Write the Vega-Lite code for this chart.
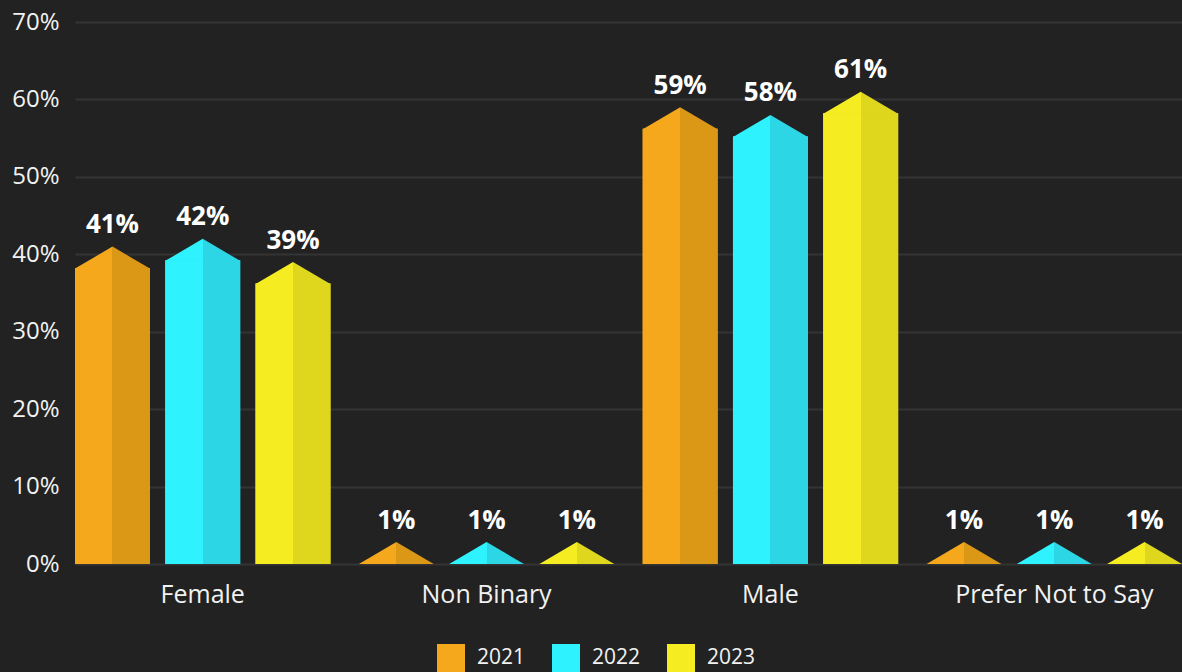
{
  "$schema": "https://vega.github.io/schema/vega-lite/v6.json",
  "width": 1107,
  "height": 542,
  "autosize": "none",
  "padding": {"left": 75, "top": 22, "right": 0, "bottom": 108},
  "background": "#222222",
  "config": {"view": {"stroke": null}, "font": "Open Sans"},
  "data": {
    "values": [
      {"gender": "Female", "year": "2021", "value": 0.41},
      {"gender": "Female", "year": "2022", "value": 0.42},
      {"gender": "Female", "year": "2023", "value": 0.39},
      {"gender": "Non Binary", "year": "2021", "value": 0.01},
      {"gender": "Non Binary", "year": "2022", "value": 0.01},
      {"gender": "Non Binary", "year": "2023", "value": 0.01},
      {"gender": "Male", "year": "2021", "value": 0.59},
      {"gender": "Male", "year": "2022", "value": 0.58},
      {"gender": "Male", "year": "2023", "value": 0.61},
      {"gender": "Prefer Not to Say", "year": "2021", "value": 0.01},
      {"gender": "Prefer Not to Say", "year": "2022", "value": 0.01},
      {"gender": "Prefer Not to Say", "year": "2023", "value": 0.01}
    ]
  },
  "encoding": {
    "x": {
      "field": "gender",
      "type": "nominal",
      "sort": ["Female", "Non Binary", "Male", "Prefer Not to Say"],
      "scale": {"paddingInner": 0.1, "paddingOuter": 0},
      "axis": {"title": null, "labelAngle": 0, "domain": false, "ticks": false, "labelPadding": 18, "labelFontSize": 25, "labelLimit": 0, "labelColor": "#f2f2f2", "grid": false}
    },
    "xOffset": {
      "field": "year",
      "type": "nominal",
      "scale": {"paddingInner": 0.17, "paddingOuter": 0}
    },
    "y": {
      "field": "value",
      "type": "quantitative",
      "scale": {"domain": [0, 0.7]},
      "axis": {"title": null, "format": ".0%", "values": [0, 0.1, 0.2, 0.3, 0.4, 0.5, 0.6, 0.7], "grid": true, "gridColor": "#343434", "gridWidth": 2, "domain": false, "ticks": false, "labelPadding": 16, "labelFontSize": 24, "labelColor": "#f2f2f2"}
    }
  },
  "layer": [
    {
      "mark": {"type": "bar", "yOffset": 21.5, "clip": true},
      "encoding": {
        "fill": {
          "field": "year",
          "type": "nominal",
          "scale": {"domain": ["2021", "2022", "2023"], "range": ["#F5A81C", "#2EF2FE", "#F5ED22"]},
          "legend": {"title": null, "orient": "none", "legendX": 362, "legendY": 622, "direction": "horizontal", "symbolType": "square", "symbolSize": 784, "symbolStrokeWidth": 0, "labelFontSize": 21, "labelColor": "#f2f2f2", "labelOffset": 12, "columnPadding": 26}
        }
      }
    },
    {
      "mark": {"type": "bar", "yOffset": 21.5, "clip": true},
      "encoding": {
        "fill": {
          "condition": [
            {"test": "datum.year === '2021'", "value": {"gradient": "linear", "x1": 0, "y1": 0, "x2": 1, "y2": 0, "stops": [{"offset": 0, "color": "#F5A81C"}, {"offset": 0.5, "color": "#F5A81C"}, {"offset": 0.5, "color": "#DB9817"}, {"offset": 1, "color": "#DB9817"}]}},
            {"test": "datum.year === '2022'", "value": {"gradient": "linear", "x1": 0, "y1": 0, "x2": 1, "y2": 0, "stops": [{"offset": 0, "color": "#2EF2FE"}, {"offset": 0.5, "color": "#2EF2FE"}, {"offset": 0.5, "color": "#2CD6E4"}, {"offset": 1, "color": "#2CD6E4"}]}}
          ],
          "value": {"gradient": "linear", "x1": 0, "y1": 0, "x2": 1, "y2": 0, "stops": [{"offset": 0, "color": "#F5ED22"}, {"offset": 0.5, "color": "#F5ED22"}, {"offset": 0.5, "color": "#DED71E"}, {"offset": 1, "color": "#DED71E"}]}
        }
      }
    },
    {
      "mark": {"type": "point", "shape": "M-1,0.59L0,0L1,0.59Z", "size": 5595, "filled": true, "opacity": 1, "strokeWidth": 0, "yOffset": {"expr": "min(0, scale('y', 0) - scale('y', datum.value) - 22)"}},
      "encoding": {
        "fill": {
          "condition": [
            {"test": "datum.year === '2021'", "value": {"gradient": "linear", "x1": 0, "y1": 0, "x2": 1, "y2": 0, "stops": [{"offset": 0, "color": "#F5A81C"}, {"offset": 0.5, "color": "#F5A81C"}, {"offset": 0.5, "color": "#DB9817"}, {"offset": 1, "color": "#DB9817"}]}},
            {"test": "datum.year === '2022'", "value": {"gradient": "linear", "x1": 0, "y1": 0, "x2": 1, "y2": 0, "stops": [{"offset": 0, "color": "#2EF2FE"}, {"offset": 0.5, "color": "#2EF2FE"}, {"offset": 0.5, "color": "#2CD6E4"}, {"offset": 1, "color": "#2CD6E4"}]}}
          ],
          "value": {"gradient": "linear", "x1": 0, "y1": 0, "x2": 1, "y2": 0, "stops": [{"offset": 0, "color": "#F5ED22"}, {"offset": 0.5, "color": "#F5ED22"}, {"offset": 0.5, "color": "#DED71E"}, {"offset": 1, "color": "#DED71E"}]}
        }
      }
    },
    {
      "mark": {"type": "text", "fontSize": 26, "fontWeight": "bold", "color": "#ffffff", "baseline": "alphabetic", "dy": -13.5, "yOffset": {"expr": "min(0, scale('y', 0) - scale('y', datum.value) - 22)"}},
      "encoding": {
        "text": {"field": "value", "type": "quantitative", "format": ".0%"}
      }
    }
  ]
}
